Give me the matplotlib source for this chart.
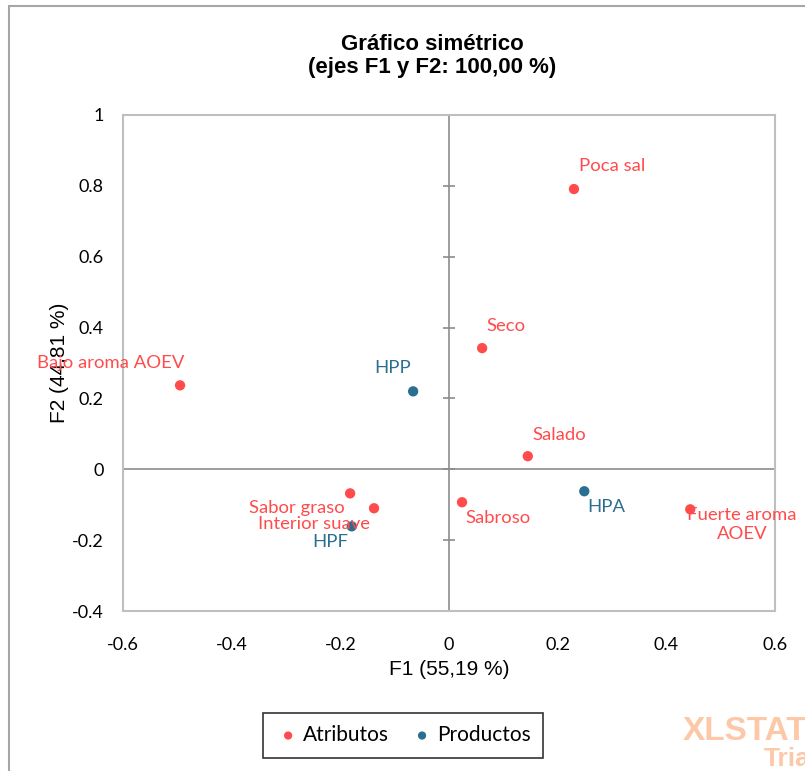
import matplotlib.pyplot as plt
from matplotlib.patches import Rectangle

# Coordenadas del análisis de correspondencias (F1, F2)
atributos = ['Poca sal', 'Seco', 'Bajo aroma AOEV', 'Salado', 'Sabor graso',
             'Interior suave', 'Sabroso', 'Fuerte aroma\nAOEV']
atr_f1 = [0.230, 0.061, -0.495, 0.145, -0.182, -0.138, 0.024, 0.444]
atr_f2 = [0.791, 0.342, 0.237, 0.037, -0.068, -0.110, -0.093, -0.113]

productos = ['HPP', 'HPF', 'HPA']
prod_f1 = [-0.066, -0.179, 0.249]
prod_f2 = [0.220, -0.161, -0.062]

x_ticks = [-0.6, -0.4, -0.2, 0, 0.2, 0.4, 0.6]
y_ticks = [-0.4, -0.2, 0, 0.2, 0.4, 0.6, 0.8, 1]

# desplazamiento de cada etiqueta respecto al punto (en píxeles)
atr_offsets = [(38, 23), (24, 22), (-69, 22), (32, 21), (-53, -15),
               (-60, -16), (36, -16), (52, -15)]
prod_offsets = [(-21, 23), (-21, -16), (22, -16)]

rojo = '#FF4B4B'
azul = '#2A6E90'
gris = '#BFBFBF'
calibri = ['Lato', 'DejaVu Sans']
arial = ['Liberation Sans', 'DejaVu Sans']

fig = plt.figure(figsize=(8.05, 7.71), dpi=100)
ax = fig.add_axes([123 / 805, 160 / 771, 652 / 805, 496 / 771])

# marco exterior del gráfico
fig.patches.append(Rectangle((9 / 805, -0.1), 1.2, (771 - 6) / 771 + 0.1,
                             transform=fig.transFigure, fill=False,
                             edgecolor='#A6A6A6', linewidth=1.5))

ax.set_xlim(-0.6, 0.6)
ax.set_ylim(-0.4, 1)
for s in ax.spines.values():
    s.set_color(gris)
    s.set_linewidth(1.5)

ax.axhline(0, color='#8C8C8C', linewidth=1.2, zorder=1)
ax.axvline(0, color='#8C8C8C', linewidth=1.2, zorder=1)

# marcas del eje Y sobre la línea vertical x=0
ax.plot([0] * len(y_ticks), y_ticks, linestyle='none', marker='_',
        markersize=9, color='#8C8C8C', markeredgewidth=1.2, zorder=1,
        clip_on=False)

ax.set_xticks(x_ticks)
ax.set_yticks(y_ticks)
ax.set_xticklabels(['-0.6', '-0.4', '-0.2', '0', '0.2', '0.4', '0.6'])
ax.set_yticklabels(['-0.4', '-0.2', '0', '0.2', '0.4', '0.6', '0.8', '1'])
ax.tick_params(length=0, labelsize=13, colors='black')
ax.tick_params(axis='x', pad=19)
ax.tick_params(axis='y', pad=14)
for lab in ax.get_xticklabels() + ax.get_yticklabels():
    lab.set_family(calibri)

ax.scatter(atr_f1, atr_f2, s=55, color=rojo, zorder=3, label='Atributos',
           edgecolors='none')
ax.scatter(prod_f1, prod_f2, s=55, color=azul, zorder=3, label='Productos',
           edgecolors='none')

for name, x, y, (dx, dy) in zip(atributos, atr_f1, atr_f2, atr_offsets):
    ax.annotate(name, (x, y), xytext=(dx * 0.72, dy * 0.72),
                textcoords='offset points', ha='center', va='center',
                color=rojo, fontsize=13.3, family=calibri,
                linespacing=1.2, annotation_clip=False, zorder=4)
for name, x, y, (dx, dy) in zip(productos, prod_f1, prod_f2, prod_offsets):
    ax.annotate(name, (x, y), xytext=(dx * 0.72, dy * 0.72),
                textcoords='offset points', ha='center', va='center',
                color=azul, fontsize=13.3, family=calibri,
                annotation_clip=False, zorder=4)

ax.set_xlabel('F1 (55,19 %)', fontsize=15, family=arial, labelpad=5)
ax.set_ylabel('F2 (44,81 %)', fontsize=15, family=arial, labelpad=2)

fig.text(432 / 805, 1 - 56 / 771, 'Gráfico simétrico\n(ejes F1 y F2: 100,00 %)',
         ha='center', va='center', fontsize=16, fontweight='bold',
         family=arial, linespacing=1.15)

leg = fig.legend(loc='center', bbox_to_anchor=(403 / 805, 1 - 735 / 771),
                 ncol=2, frameon=True, fancybox=False,
                 prop={'family': calibri, 'size': 15},
                 handletextpad=0.1, columnspacing=1.0, markerscale=0.8,
                 borderpad=0.6, handlelength=1.2)
leg.get_frame().set_edgecolor('black')
leg.get_frame().set_linewidth(1.2)

# marca de agua de la versión de prueba
fig.text(683 / 805, 1 - 731 / 771, 'XLSTAT', color='#FCC8A8', fontsize=24,
         fontweight='bold', family=arial, ha='left', va='center')
fig.text(764 / 805, 1 - 759 / 771, 'Trial', color='#FCC8A8', fontsize=19,
         fontweight='bold', family=arial, ha='left', va='center')

fig.savefig('out.png', dpi=100)
